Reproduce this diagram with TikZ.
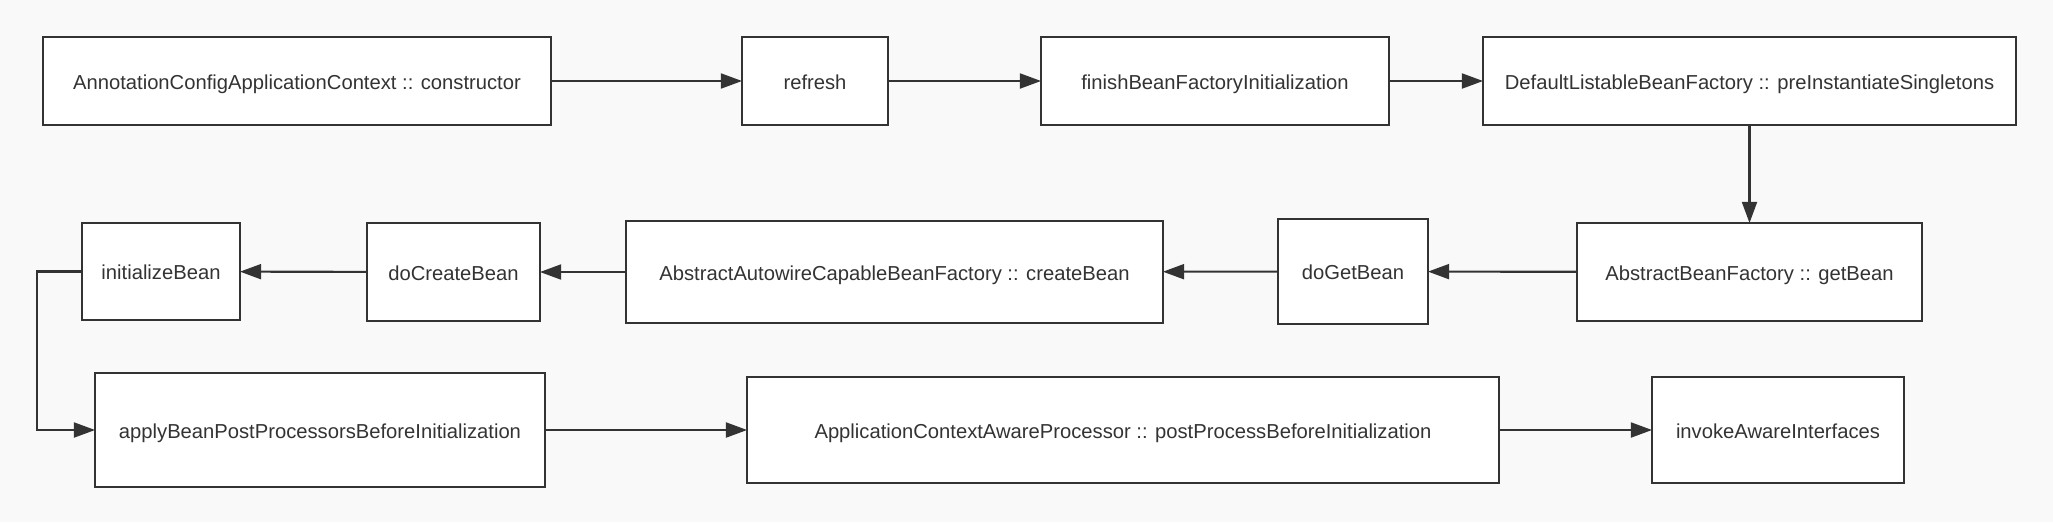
\documentclass[tikz,border=0pt]{standalone}
\usepackage{fontspec}
\setmainfont{Liberation Sans}
\usetikzlibrary{arrows.meta}
\definecolor{ink}{HTML}{333333}
\definecolor{paper}{HTML}{F9F9F9}
\begin{document}
\begin{tikzpicture}[
    x=0.02cm, y=-0.02cm,
    >={Triangle[length=12pt, width=8.5pt]},
    box/.style={
        draw=ink,
        fill=white,
        line width=1.2pt,
        inner sep=0pt,
        outer sep=0pt,
        text=ink,
        text height=1.0em,
        text depth=0.05em,
        font=\fontsize{11.5}{14}\selectfont
    },
    arr/.style={->, line width=1.2pt, draw=ink}
]
    \fill[paper] (0,0) rectangle (2053,522);

    % first row
    \node[box, minimum width=10.16cm, minimum height=1.76cm] (ctor) at (297,81)
        {AnnotationConfigApplicationContext :: constructor};
    \node[box, minimum width=2.92cm, minimum height=1.76cm] (refresh) at (815,81)
        {refresh};
    \node[box, minimum width=6.96cm, minimum height=1.76cm] (finish) at (1215,81)
        {finishBeanFactoryInitialization};
    \node[box, minimum width=10.66cm, minimum height=1.76cm] (preinst) at (1749.5,81)
        {DefaultListableBeanFactory :: preInstantiateSingletons};

    % second row
    \node[box, minimum width=6.9cm, minimum height=1.96cm] (getbean) at (1749.5,272)
        {AbstractBeanFactory :: getBean};
    \node[box, minimum width=3.0cm, minimum height=2.1cm] (dogetbean) at (1353,271.5)
        {doGetBean};
    \node[box, minimum width=10.74cm, minimum height=2.04cm] (createbean) at (894.5,272)
        {AbstractAutowireCapableBeanFactory :: createBean};
    \node[box, minimum width=3.46cm, minimum height=1.96cm] (docreate) at (453.5,272)
        {doCreateBean};
    \node[box, minimum width=3.16cm, minimum height=1.94cm] (initbean) at (161,271.5)
        {initializeBean};

    % third row
    \node[box, minimum width=9.0cm, minimum height=2.28cm] (applybpp) at (320,430)
        {applyBeanPostProcessorsBeforeInitialization};
    \node[box, minimum width=15.04cm, minimum height=2.12cm] (ctxaware) at (1123,430)
        {ApplicationContextAwareProcessor :: postProcessBeforeInitialization};
    \node[box, minimum width=5.04cm, minimum height=2.12cm] (invoke) at (1778,430)
        {invokeAwareInterfaces};

    \coordinate (bend) at (37,271.5);

    \draw[arr] (ctor) -- (refresh);
    \draw[arr] (refresh) -- (finish);
    \draw[arr] (finish) -- (preinst);
    \draw[arr] (preinst) -- (getbean);
    \draw[arr] (getbean) -- (dogetbean);
    \draw[arr] (dogetbean) -- (createbean);
    \draw[arr] (createbean) -- (docreate);
    \draw[arr] (docreate) -- (initbean);
    \draw[arr] (initbean.west) -- (bend) |- (applybpp.west);
    \draw[arr] (applybpp) -- (ctxaware);
    \draw[arr] (ctxaware) -- (invoke);
\end{tikzpicture}
\end{document}
